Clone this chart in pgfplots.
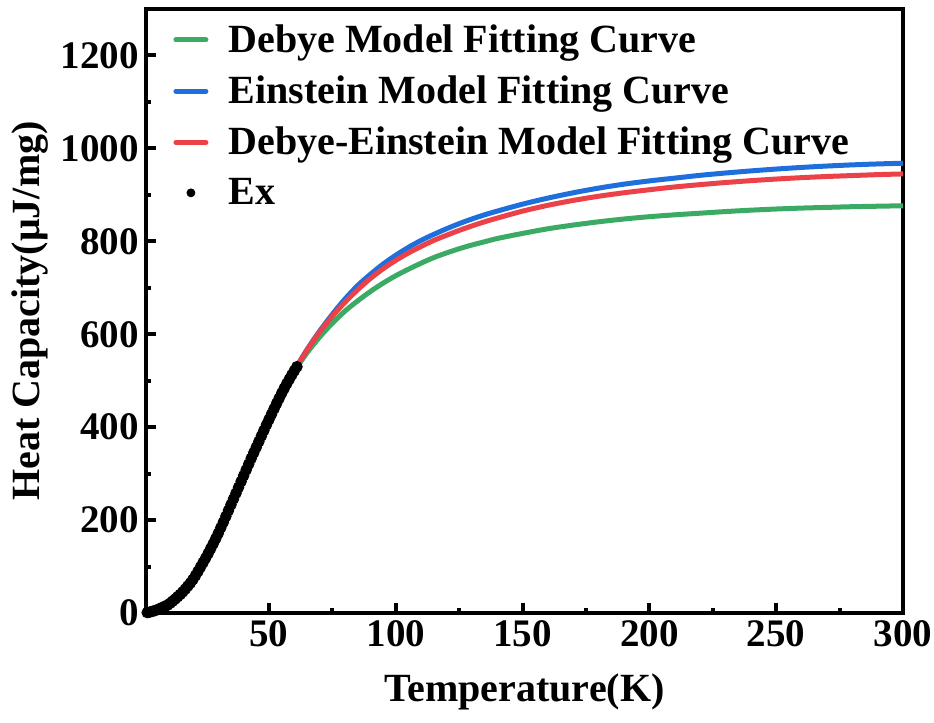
\documentclass[border=0pt]{standalone}
\usepackage{fontspec}
\setmainfont{Liberation Serif}
\usepackage{pgfplots}
\pgfplotsset{compat=1.18}
\definecolor{cgreen}{RGB}{58,170,100}
\definecolor{cblue}{RGB}{30,110,220}
\definecolor{cred}{RGB}{235,65,72}
\newcommand{\bigfont}{\fontsize{20}{24}\selectfont\bfseries}
\newcommand{\tickfont}{\fontsize{19.5}{23}\selectfont\bfseries}
\pgfplotsset{
  lineleg/.style={legend image code/.code={\draw[##1, line cap=round] (0pt,0pt) -- (15pt,0pt);}},
  dotleg/.style={legend image code/.code={\fill[black] (7.5pt,0pt) circle (2pt);}},
}
\begin{document}
\begin{tikzpicture}
\begin{axis}[
  name=ax,
  scale only axis, width=378.5pt, height=302pt,
  xmin=1.5, xmax=300, ymin=0, ymax=1300,
  xtick={50,100,...,300}, ytick={0,200,...,1200},
  minor x tick num=1, minor y tick num=1,
  tick align=inside, xtick pos=bottom, ytick pos=left,
  axis line style={line width=2.25pt},
  major tick length=5pt, minor tick length=2.5pt,
  every tick/.style={line width=2pt, black},
  /pgf/number format/assume math mode=true,
  /pgf/number format/set thousands separator={},
  scaled ticks=false,
  tick label style={font=\tickfont},
  xlabel={Temperature(K)},
  ylabel={Heat Capacity(μJ/mg)},
  every axis x label/.style={at={(axis description cs:0.5,-0.131)}, anchor=center, font=\bigfont},
  every axis y label/.style={at={(axis description cs:-0.153,0.5)}, rotate=90, anchor=center, font=\bigfont},
  legend cell align=left,
  legend style={at={(axis description cs:0.0357,0.9816)}, anchor=north west, draw=none, fill=none,
    font=\bigfont, row sep=6.25pt, column sep=8pt, inner sep=0pt},
]
\addplot[cgreen, line width=2.5pt, smooth, lineleg] coordinates {
(1.5,0) (3,0.8) (5,3) (8,8.5) (10,13) (12,20) (15,34) (18,51) (20,65) (22,81) (25,109) (28,141) (30,164) (33,201) (36,240) (40,292) (45,355) (50,415) (55,471) (60,520)
(65,560) (70,594) (75,624) (80,650) (85,672) (90,692) (95,710) (100,726) (105,740) (110,753) (115,765) (120,775) (125,784) (130,792) (135,799) (140,806) (150,817) (160,827) (170,835) (180,842) (190,848) (200,853) (210,857) (220,860.5) (230,864) (240,867) (250,869.5) (260,871.5) (270,873) (280,874.5) (290,875.5) (300,876.5)};
\addlegendentry{Debye Model Fitting Curve}
\addplot[cblue, line width=2.5pt, smooth, lineleg] coordinates {
(1.5,0) (3,1.2) (5,4) (8,10.5) (10,15.5) (12,24) (15,39) (18,57.5) (20,72) (22,89.5) (25,118) (28,149) (30,171.5) (33,208) (36,245.5) (40,295.5) (45,357) (50,416.5) (55,473) (60,522)
(65,567) (70,607) (75,643) (80,676) (85,705) (90,729) (95,751) (100,770) (105,787) (110,802) (115,815) (120,827) (125,838) (130,848) (135,857) (140,865) (150,880) (160,893) (170,904.5) (180,914.5) (190,923) (200,930) (210,936) (220,942) (230,947) (240,951.5) (250,955.5) (260,959) (270,962) (280,964.5) (290,966.5) (300,968)};
\addlegendentry{Einstein Model Fitting Curve}
\addplot[cred, line width=2.5pt, smooth, lineleg] coordinates {
(1.5,0) (3,1.2) (5,4) (8,10.5) (10,15.5) (12,24) (15,39) (18,57.5) (20,72) (22,89.5) (25,118) (28,149) (30,171.5) (33,208) (36,245.5) (40,295.5) (45,357) (50,416.5) (55,473) (60,522)
(65,566) (70,605) (75,639) (80,669) (85,696) (90,720) (95,741) (100,759) (105,775) (110,789) (115,802) (120,813) (125,823.5) (130,833) (135,842) (140,850) (150,865) (160,877.5) (170,888) (180,897) (190,904.5) (200,911) (210,917) (220,922) (230,926.5) (240,930.5) (250,934) (260,937) (270,939.5) (280,941.5) (290,943.5) (300,945)};
\addlegendentry{Debye-Einstein Model Fitting Curve}
\addplot[only marks, mark=*, mark size=2.7pt, black, dotleg] coordinates {
(2,1) (3,2) (4,3.5) (5,5.2) (6,7.2) (7,9.5) (8,12) (9,14.5) (10,17) (11,21) (12,25.5) (13,30) (14,35) (15,40) (16,45.5) (17,51.5) (18,58) (19,64.5) (20,72) (21,80.5) (22,89.5) (23,99) (24,108.5) (25,118) (26,128) (27,138.5) (28,149) (29,160) (30,171.5) (31,183.5) (32,195.5) (33,208) (34,220.5) (35,233) (36,245.5) (37,258) (38,270.5) (39,283) (40,295.5) (41,308) (42,320.5) (43,333) (44,345) (45,357) (46,369) (47,381) (48,393) (49,405) (50,416.5) (51,428) (52,439.5) (53,451) (54,462) (55,473) (56,483.5) (57,493.5) (58,503) (59,512.5) (60,521.5) (61,530)};
\addlegendentry{Ex}
\end{axis}
\pgfresetboundingbox
\path ([xshift=-73pt,yshift=-54.5pt]ax.south west) rectangle ([xshift=15.5pt,yshift=4.5pt]ax.north east);
\end{tikzpicture}
\end{document}
